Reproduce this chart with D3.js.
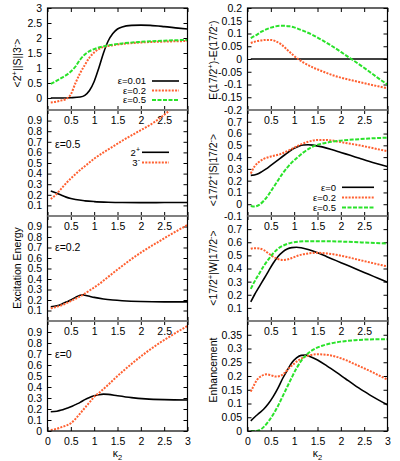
<!DOCTYPE html>
<html>
<head>
<meta charset="utf-8">
<script src="https://cdn.jsdelivr.net/npm/d3@7"></script>
<style>
  body { margin: 0; background: #fff; }
  text { font-family: "Liberation Sans", Arial, sans-serif; }
</style>
</head>
<body>
<div id="container"></div>
<script>
/* DATA: [kappa2, value] pairs */
// <2+||S||3->
const s23Eps001 = [[0.07,0],[0.3,0],[0.5,0.01],[0.7,0.035],[0.8,0.09],[0.9,0.25],[1.0,0.55],[1.1,1.0],[1.2,1.5],[1.3,1.9],[1.4,2.15],[1.5,2.3],[1.6,2.37],[1.8,2.42],[2.0,2.43],[2.2,2.42],[2.5,2.38],[2.8,2.33],[3.0,2.3]]
const s23Eps02 = [[0.07,-0.15],[0.2,-0.12],[0.3,-0.08],[0.4,-0.03],[0.5,0.12],[0.6,0.5],[0.7,0.83],[0.8,1.1],[0.9,1.35],[1.0,1.52],[1.1,1.63],[1.2,1.7],[1.4,1.76],[1.6,1.8],[2.0,1.85],[2.5,1.88],[3.0,1.9]]
const s23Eps05 = [[0.07,0.47],[0.2,0.58],[0.3,0.67],[0.4,0.76],[0.5,0.88],[0.6,1.05],[0.7,1.28],[0.8,1.45],[0.9,1.56],[1.0,1.63],[1.2,1.72],[1.4,1.78],[1.6,1.82],[2.0,1.87],[2.5,1.91],[3.0,1.94]]

// excitation energies, eps = 0.5 / 0.2 / 0
const e2Eps05 = [[0.07,0.235],[0.2,0.215],[0.3,0.195],[0.4,0.178],[0.5,0.165],[0.6,0.155],[0.8,0.143],[1.0,0.136],[1.3,0.13],[1.6,0.127],[2.0,0.126],[2.5,0.127],[3.0,0.128]]
const e3Eps05 = [[0.07,0.16],[0.2,0.21],[0.3,0.26],[0.4,0.31],[0.5,0.355],[0.6,0.395],[0.7,0.435],[0.8,0.47],[1.0,0.54],[1.2,0.6],[1.4,0.655],[1.6,0.71],[1.8,0.76],[2.0,0.81],[2.2,0.86],[2.4,0.92],[2.6,0.99],[2.8,1.06],[3.0,1.12]]
const e2Eps02 = [[0.07,0.135],[0.2,0.145],[0.3,0.16],[0.4,0.18],[0.5,0.2],[0.6,0.225],[0.7,0.245],[0.75,0.25],[0.8,0.245],[0.9,0.235],[1.0,0.225],[1.2,0.21],[1.4,0.2],[1.6,0.193],[2.0,0.185],[2.5,0.182],[3.0,0.182]]
const e3Eps02 = [[0.07,0.12],[0.3,0.15],[0.5,0.19],[0.7,0.235],[0.9,0.29],[1.1,0.35],[1.3,0.42],[1.5,0.49],[1.8,0.59],[2.1,0.68],[2.4,0.76],[2.7,0.84],[3.0,0.915]]
const e2Eps0 = [[0.07,0.175],[0.2,0.18],[0.3,0.19],[0.4,0.205],[0.5,0.22],[0.6,0.24],[0.7,0.26],[0.8,0.285],[0.9,0.305],[1.0,0.32],[1.1,0.33],[1.2,0.335],[1.3,0.333],[1.5,0.32],[1.8,0.303],[2.1,0.292],[2.5,0.285],[3.0,0.282]]
const e3Eps0 = [[0.07,0.01],[0.2,0.02],[0.3,0.035],[0.4,0.05],[0.5,0.07],[0.6,0.11],[0.7,0.16],[0.8,0.21],[0.9,0.26],[1.0,0.31],[1.1,0.345],[1.3,0.42],[1.5,0.5],[1.8,0.61],[2.1,0.71],[2.4,0.8],[2.7,0.88],[3.0,0.955]]

// E(17/2+)-E(17/2-)
const dEEps0 = [[0.07,0],[3.0,0]]
const dEEps02 = [[0.07,0.063],[0.2,0.07],[0.3,0.073],[0.4,0.075],[0.5,0.075],[0.6,0.07],[0.7,0.06],[0.8,0.045],[0.9,0.028],[1.0,0.012],[1.1,-0.002],[1.2,-0.014],[1.4,-0.033],[1.6,-0.048],[1.8,-0.062],[2.0,-0.073],[2.2,-0.082],[2.5,-0.095],[2.8,-0.107],[3.0,-0.115]]
const dEEps05 = [[0.07,0.082],[0.2,0.095],[0.3,0.107],[0.4,0.116],[0.5,0.123],[0.6,0.128],[0.7,0.13],[0.8,0.13],[0.9,0.128],[1.0,0.124],[1.2,0.11],[1.4,0.094],[1.6,0.074],[1.8,0.052],[2.0,0.028],[2.2,0.003],[2.4,-0.022],[2.6,-0.048],[2.8,-0.075],[3.0,-0.1]]

// <17/2+|S|17/2->
const sEps0 = [[0.07,0.245],[0.2,0.255],[0.3,0.275],[0.4,0.3],[0.5,0.33],[0.6,0.36],[0.7,0.39],[0.8,0.42],[0.9,0.45],[1.0,0.475],[1.1,0.493],[1.2,0.503],[1.3,0.505],[1.4,0.502],[1.6,0.487],[1.8,0.465],[2.0,0.44],[2.2,0.415],[2.4,0.39],[2.6,0.365],[2.8,0.342],[3.0,0.32]]
const sEps02 = [[0.07,0.26],[0.15,0.32],[0.25,0.36],[0.35,0.385],[0.5,0.405],[0.7,0.425],[0.9,0.46],[1.1,0.5],[1.3,0.53],[1.5,0.545],[1.7,0.545],[1.9,0.535],[2.1,0.52],[2.4,0.5],[2.7,0.475],[3.0,0.45]]
const sEps05 = [[0.07,-0.015],[0.15,-0.02],[0.25,-0.005],[0.35,0.03],[0.45,0.08],[0.55,0.14],[0.65,0.2],[0.75,0.26],[0.85,0.31],[0.95,0.355],[1.05,0.39],[1.2,0.44],[1.4,0.49],[1.6,0.515],[1.8,0.53],[2.0,0.54],[2.3,0.55],[2.6,0.558],[3.0,0.565]]

// <17/2+|W|17/2->
const wEps0 = [[0.07,0.145],[0.15,0.2],[0.25,0.26],[0.35,0.32],[0.45,0.38],[0.55,0.44],[0.65,0.49],[0.75,0.525],[0.85,0.548],[0.95,0.559],[1.05,0.562],[1.15,0.558],[1.3,0.545],[1.5,0.52],[1.7,0.49],[1.9,0.46],[2.1,0.43],[2.3,0.4],[2.5,0.37],[2.7,0.34],[2.9,0.31],[3.0,0.295]]
const wEps02 = [[0.07,0.55],[0.15,0.555],[0.25,0.553],[0.35,0.54],[0.45,0.515],[0.55,0.49],[0.65,0.472],[0.75,0.465],[0.85,0.468],[0.95,0.48],[1.1,0.5],[1.3,0.515],[1.5,0.52],[1.7,0.515],[1.9,0.505],[2.1,0.49],[2.4,0.465],[2.7,0.44],[3.0,0.415]]
const wEps05 = [[0.07,0.245],[0.15,0.3],[0.25,0.36],[0.35,0.42],[0.45,0.47],[0.55,0.515],[0.65,0.55],[0.75,0.572],[0.85,0.587],[0.95,0.597],[1.1,0.605],[1.3,0.608],[1.6,0.608],[2.0,0.605],[2.5,0.598],[3.0,0.59]]

// Enhancement
const enhEps0 = [[0.07,0.037],[0.15,0.05],[0.25,0.065],[0.35,0.08],[0.45,0.1],[0.55,0.125],[0.65,0.155],[0.75,0.19],[0.85,0.22],[0.95,0.248],[1.05,0.266],[1.15,0.275],[1.25,0.276],[1.35,0.27],[1.5,0.258],[1.7,0.237],[1.9,0.214],[2.1,0.19],[2.3,0.166],[2.5,0.144],[2.7,0.123],[2.9,0.104],[3.0,0.095]]
const enhEps02 = [[0.07,0.143],[0.12,0.16],[0.2,0.185],[0.3,0.2],[0.4,0.206],[0.5,0.203],[0.6,0.198],[0.7,0.2],[0.8,0.212],[0.9,0.23],[1.0,0.245],[1.1,0.258],[1.2,0.268],[1.35,0.276],[1.5,0.279],[1.7,0.277],[1.9,0.27],[2.1,0.258],[2.3,0.243],[2.5,0.228],[2.7,0.212],[2.9,0.195],[3.0,0.187]]
const enhEps05 = [[0.07,0],[0.15,0],[0.25,0.003],[0.35,0.015],[0.45,0.035],[0.55,0.06],[0.65,0.09],[0.75,0.125],[0.85,0.16],[0.95,0.195],[1.05,0.228],[1.15,0.255],[1.25,0.275],[1.4,0.295],[1.6,0.31],[1.8,0.319],[2.0,0.325],[2.3,0.33],[2.6,0.333],[3.0,0.334]]

// tick values
const kTicks = [0, 0.5, 1, 1.5, 2, 2.5, 3]
const kLabelsInner = [0.5, 1, 1.5, 2, 2.5]
const ticksS23 = [0, 0.5, 1, 1.5, 2, 2.5, 3]
const ticksEnergy = [0.1, 0.2, 0.3, 0.4, 0.5, 0.6, 0.7, 0.8, 0.9]
const ticksEnergyBottom = [0, 0.1, 0.2, 0.3, 0.4, 0.5, 0.6, 0.7, 0.8, 0.9]
const ticksDE = [-0.2, -0.15, -0.1, -0.05, 0, 0.05, 0.1, 0.15, 0.2]
const ticksS = [-0.1, 0, 0.1, 0.2, 0.3, 0.4, 0.5, 0.6, 0.7]
const ticksW = [0.1, 0.2, 0.3, 0.4, 0.5, 0.6, 0.7]
const ticksEnh = [0, 0.05, 0.1, 0.15, 0.2, 0.25, 0.3, 0.35]

/* LAYOUT */
const width = 400, height = 461
const cols = [[47.5, 187.5], [247.5, 387.5]]
const rows = [[8, 110], [110, 216], [216, 321], [321, 431]]

const styles = {
  solid: { stroke: "#000", w: 1.6, dash: null },
  dot: { stroke: "#ff6030", w: 2, dash: "2,1.3" },
  dash: { stroke: "#2ae22a", w: 2, dash: "4,1.5" }
}

const panels = [
  { c: 0, r: 0, dom: [-0.4, 3], ticks: ticksS23, series: [[s23Eps001, "solid"], [s23Eps02, "dot"], [s23Eps05, "dash"]] },
  { c: 0, r: 1, dom: [0, 1], ticks: ticksEnergy, series: [[e2Eps05, "solid"], [e3Eps05, "dot"]], note: "ε=0.5" },
  { c: 0, r: 2, dom: [0, 1], ticks: ticksEnergy, series: [[e2Eps02, "solid"], [e3Eps02, "dot"]], note: "ε=0.2" },
  { c: 0, r: 3, dom: [0, 1], ticks: ticksEnergyBottom, series: [[e2Eps0, "solid"], [e3Eps0, "dot"]], note: "ε=0" },
  { c: 1, r: 0, dom: [-0.2, 0.2], ticks: ticksDE, series: [[dEEps0, "solid"], [dEEps02, "dot"], [dEEps05, "dash"]] },
  { c: 1, r: 1, dom: [-0.1, 0.8], ticks: ticksS, series: [[sEps0, "solid"], [sEps02, "dot"], [sEps05, "dash"]] },
  { c: 1, r: 2, dom: [0, 0.8], ticks: ticksW, series: [[wEps0, "solid"], [wEps02, "dot"], [wEps05, "dash"]] },
  { c: 1, r: 3, dom: [0, 0.4], ticks: ticksEnh, series: [[enhEps0, "solid"], [enhEps02, "dot"], [enhEps05, "dash"]] }
]

const svg = d3.select("#container")
  .append("svg")
  .attr("width", width)
  .attr("height", height)

const fmt = v => String(+v.toFixed(2))

panels.forEach((p, i) => {
  const [x0, x1] = cols[p.c]
  const [y0, y1] = rows[p.r]
  const xScale = d3.scaleLinear().domain([0, 3]).range([x0, x1])
  const yScale = d3.scaleLinear().domain(p.dom).range([y1, y0])
  const g = svg.append("g")

  svg.append("clipPath").attr("id", "clip" + i)
    .append("rect").attr("x", x0).attr("y", y0).attr("width", x1 - x0).attr("height", y1 - y0)

  // y axis left with labels, ticks inward
  g.append("g")
    .attr("transform", `translate(${x0},0)`)
    .call(d3.axisLeft(yScale).tickValues(p.ticks).tickSize(-4).tickPadding(5.5).tickFormat(fmt))
    .call(a => a.select(".domain").remove())
    .call(a => a.selectAll("text").attr("font-size", 10.5).attr("fill", "#000").attr("font-family", "Liberation Sans, Arial, sans-serif"))
  g.append("g")
    .attr("transform", `translate(${x1},0)`)
    .call(d3.axisRight(yScale).tickValues(p.ticks).tickSize(-4).tickFormat(""))
    .call(a => a.select(".domain").remove())

  // x axis
  const last = p.r === 3
  g.append("g")
    .attr("transform", `translate(0,${y1})`)
    .call(d3.axisBottom(xScale).tickValues(kTicks).tickSize(-4).tickPadding(6.5)
      .tickFormat(d => (last || kLabelsInner.includes(d)) ? fmt(d) : ""))
    .call(a => a.select(".domain").remove())
    .call(a => a.selectAll("text").attr("font-size", 10.5).attr("fill", "#000").attr("font-family", "Liberation Sans, Arial, sans-serif"))
  g.append("g")
    .attr("transform", `translate(0,${y0})`)
    .call(d3.axisTop(xScale).tickValues(kTicks).tickSize(-4).tickFormat(""))
    .call(a => a.select(".domain").remove())

  // curves
  const lineGen = d3.line()
    .x(d => xScale(d[0]))
    .y(d => yScale(d[1]))
    .curve(d3.curveMonotoneX)
  p.series.forEach(([data, st]) => {
    const s = styles[st]
    g.append("path")
      .attr("clip-path", `url(#clip${i})`)
      .attr("d", lineGen(data))
      .attr("fill", "none")
      .attr("stroke", s.stroke)
      .attr("stroke-width", s.w)
      .attr("stroke-dasharray", s.dash)
  })

  // frame
  g.append("rect")
    .attr("x", x0).attr("y", y0).attr("width", x1 - x0).attr("height", y1 - y0)
    .attr("fill", "none").attr("stroke", "#000").attr("stroke-width", 1.2)

  if (p.note) {
    g.append("text").attr("x", x0 + 7.5).attr("y", y0 + (p.r === 1 ? 37.5 : p.r === 2 ? 35 : 37))
      .attr("font-size", 10.5).text(p.note)
  }
})

// gray separators between stacked panels
cols.forEach(([x0, x1]) => {
  rows.slice(1).forEach(([y]) => {
    svg.append("line").attr("x1", x0).attr("x2", x1).attr("y1", y).attr("y2", y)
      .attr("stroke", "#808080").attr("stroke-width", 2)
  })
})

// legends
function legend(items, xText, xl0, xl1, ys) {
  items.forEach(([label, st], j) => {
    const s = styles[st]
    const t = svg.append("text").attr("x", xText).attr("y", ys[j]).attr("dy", "0.35em")
      .attr("text-anchor", "end").attr("font-size", 9.5)
    label.forEach(([str, sup]) => {
      if (sup) t.append("tspan").attr("font-size", 7).attr("dy", -4).text(str)
      else t.append("tspan").text(str)
    })
    svg.append("line").attr("x1", xl0).attr("x2", xl1).attr("y1", ys[j]).attr("y2", ys[j])
      .attr("stroke", s.stroke).attr("stroke-width", s.w).attr("stroke-dasharray", s.dash)
  })
}
legend([[[["ε=0.01"]], "solid"], [[["ε=0.2"]], "dot"], [[["ε=0.5"]], "dash"]], 146, 152, 179, [81, 90.5, 100])
legend([[[["2"], ["+", true]], "solid"], [[["3"], ["-", true]], "dot"]], 140, 142, 169, [152.3, 162.5])
legend([[[["ε=0"]], "solid"], [[["ε=0.2"]], "dot"], [[["ε=0.5"]], "dash"]], 336, 342, 374, [187.3, 197.5, 207.5])

// axis titles (rotated)
function title(parts, x, y) {
  const t = svg.append("text")
    .attr("transform", `translate(${x},${y})rotate(-90)`)
    .attr("text-anchor", "middle").attr("font-size", 10.5)
  let shifted = false
  parts.forEach(([str, sup]) => {
    if (sup) { t.append("tspan").attr("font-size", 7.5).attr("dy", -4).text(str); shifted = true }
    else { t.append("tspan").attr("dy", shifted ? 4 : 0).text(str); shifted = false }
  })
}
title([["<2"], ["+", true], ["||S||3"], ["-", true], [">"]], 21, 63)
title([["Excitation Energy"]], 21, 268)
title([["E(17/2"], ["+", true], [")-E(17/2"], ["-", true], [")"]], 217, 60)
title([["<17/2"], ["+", true], ["|S|17/2"], ["-", true], [">"]], 217, 170)
title([["<17/2"], ["+", true], ["|W|17/2"], ["-", true], [">"]], 217, 268)
title([["Enhancement"]], 217, 370)

// kappa_2 labels
cols.forEach(([x0, x1]) => {
  const t = svg.append("text").attr("x", (x0 + x1) / 2).attr("y", 457)
    .attr("text-anchor", "middle").attr("font-size", 10.5)
  t.append("tspan").text("κ")
  t.append("tspan").attr("font-size", 7.5).attr("dy", 3).text("2")
})
</script>
</body>
</html>
